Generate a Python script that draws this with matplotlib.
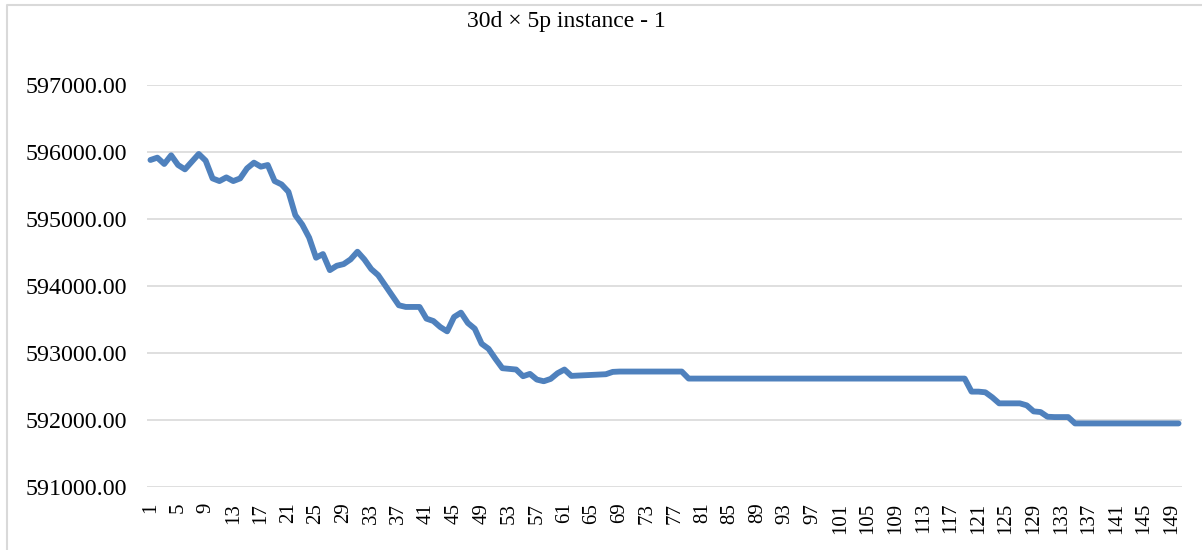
import matplotlib
matplotlib.use("Agg")
import matplotlib.pyplot as plt
from matplotlib.lines import Line2D
from matplotlib.ticker import FormatStrFormatter

plt.rcParams['font.family'] = ['Liberation Serif', 'DejaVu Serif']

title = "30d \u00d7 5p instance - 1"

# objective value per iteration
iterations = list(range(1, 151))
values = [
    595880, 595915, 595820, 595950, 595805, 595740, 595855, 595970, 595870, 595605,
    595565, 595620, 595565, 595605, 595755, 595840, 595780, 595805, 595565, 595515,
    595405, 595055, 594915, 594720, 594420, 594475, 594235, 594300, 594325, 594395,
    594510, 594395, 594250, 594160, 594010, 593860, 593710, 593685, 593685, 593685,
    593510, 593475, 593385, 593320, 593535, 593600, 593445, 593360, 593135, 593060,
    592910, 592770, 592760, 592750, 592650, 592685, 592600, 592575, 592610, 592695,
    592750, 592655, 592660, 592665, 592670, 592675, 592680, 592715,
] + [592720] * 10 + [592615] * 41 + [
    592420, 592420, 592410, 592335, 592245, 592245, 592245, 592245, 592215, 592125,
    592115, 592045, 592040, 592040, 592040, 591945,
] + [591945] * 15

xtick_labels = [str(i) for i in range(1, 151, 4)]
y_ticks = [591000, 592000, 593000, 594000, 595000, 596000, 597000]

W, H = 1202, 550
fig = plt.figure(figsize=(W / 100, H / 100), dpi=100)
ax = fig.add_axes([147 / W, 1 - 486.7 / H, 1035 / W, (486.7 - 85) / H])

ax.plot(iterations, values, color='#4F81BD', linewidth=4.2, solid_capstyle='round',
        solid_joinstyle='round', zorder=3)

ax.set_xlim(0.5, 150.5)
ax.set_ylim(591000, 597000)
ax.set_yticks(y_ticks)
ax.yaxis.set_major_formatter(FormatStrFormatter('%.2f'))
ax.set_xticks(range(1, 151, 4))
ax.set_xticklabels(xtick_labels, rotation=90)

ax.grid(axis='y', color='#D9D9D9', linewidth=1.2)
ax.set_axisbelow(True)
for s in ax.spines.values():
    s.set_visible(False)
ax.tick_params(axis='y', length=0, pad=14.4, labelsize=17.3)
ax.tick_params(axis='x', length=0, pad=11.5, labelsize=15)

# chart border (only top and left edges are inside the picture)
fig.add_artist(Line2D([7 / W, 7 / W, 1], [0, 1 - 4.5 / H, 1 - 4.5 / H],
                      transform=fig.transFigure, color='#D9D9D9', linewidth=1.5))

fig.text(566 / W, 1 - 22 / H, title, ha='center', va='center', fontsize=17)

fig.savefig('out.png', dpi=100)
